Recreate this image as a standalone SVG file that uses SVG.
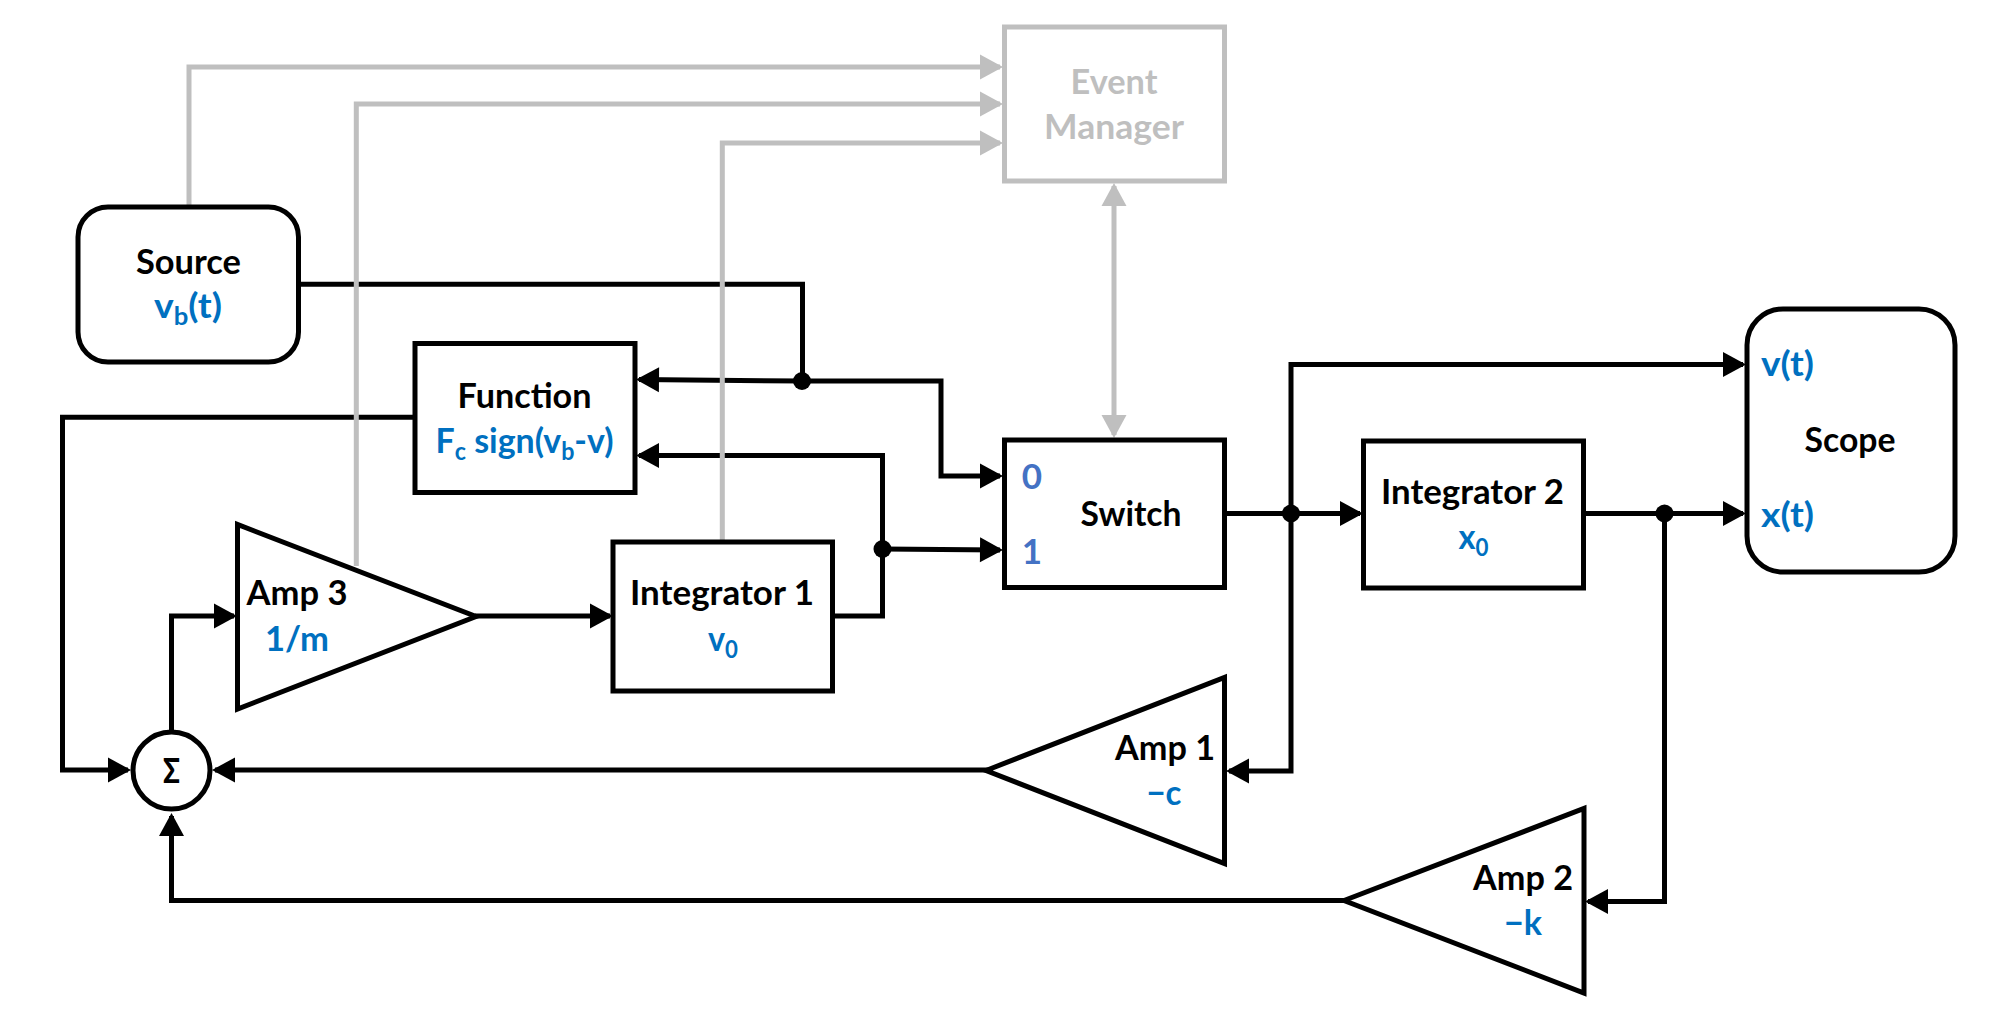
<svg xmlns="http://www.w3.org/2000/svg" width="2000" height="1031" viewBox="0 0 2000 1031">
<style>
.box{fill:#fff;stroke:#000;stroke-width:5}
.gbox{fill:#fff;stroke:#bfbfbf;stroke-width:5}
.w{fill:none;stroke:#000;stroke-width:5;stroke-linejoin:miter}
.g{fill:none;stroke:#bfbfbf;stroke-width:5;stroke-linejoin:miter}
text{font-family:"Lato","Liberation Sans",sans-serif;font-weight:700;font-size:35px;fill:#000;text-anchor:middle}
.b{fill:#0070c0}
.n{fill:#4472c4}
.l{fill:#bfbfbf}
.s{font-size:24px}
</style>
<defs>
<marker id="ab" markerUnits="userSpaceOnUse" markerWidth="24" markerHeight="26" refX="20" refY="12.5" orient="auto-start-reverse" overflow="visible"><path d="M0 0L23 12.5L0 25Z" fill="#000"/></marker>
<marker id="ag" markerUnits="userSpaceOnUse" markerWidth="24" markerHeight="26" refX="20" refY="12.5" orient="auto-start-reverse" overflow="visible"><path d="M0 0L23 12.5L0 25Z" fill="#bfbfbf"/></marker>
</defs>
<g id="connectors">
<path class="w" d="M299 284.300H802.500V382"/>
<path class="w" d="M802 381L639 379.500" marker-end="url(#ab)"/>
<path class="w" d="M802 381H941V476H1000" marker-end="url(#ab)"/>
<path class="w" d="M832 616H882.500V455.500H639" marker-end="url(#ab)"/>
<path class="w" d="M882.500 549L1000 550" marker-end="url(#ab)"/>
<path class="w" d="M414 417.300H62.500V770H128" marker-end="url(#ab)"/>
<path class="w" d="M171.500 732V616H234" marker-end="url(#ab)"/>
<path class="w" d="M475 616H610" marker-end="url(#ab)"/>
<path class="w" d="M990 770H215" marker-end="url(#ab)"/>
<path class="w" d="M1346 900.500H171.500V816" marker-end="url(#ab)"/>
<path class="w" d="M1224 513.500H1360" marker-end="url(#ab)"/>
<path class="w" d="M1291 514V364.500H1743" marker-end="url(#ab)"/>
<path class="w" d="M1291 514V771H1229" marker-end="url(#ab)"/>
<path class="w" d="M1584 513.500H1743" marker-end="url(#ab)"/>
<path class="w" d="M1664.500 514V901.500H1588" marker-end="url(#ab)"/>
<circle cx="802" cy="381" r="9"/>
<circle cx="882.500" cy="549" r="9"/>
<circle cx="1291" cy="513.500" r="9"/>
<circle cx="1664.500" cy="513.500" r="9"/>
<path class="g" d="M189 207V67H1000" marker-end="url(#ag)"/>
<path class="g" d="M356.300 566V104H1000" marker-end="url(#ag)"/>
<path class="g" d="M722.300 542V143H1000" marker-end="url(#ag)"/>
<path class="g" d="M1114 186V435" marker-start="url(#ag)" marker-end="url(#ag)"/>
</g>
<g id="event-manager">
<rect class="gbox" x="1004.500" y="27" width="220" height="154"/>
<text class="l" x="1114" y="94" textLength="87" lengthAdjust="spacingAndGlyphs">Event</text>
<text class="l" x="1114" y="139" textLength="140" lengthAdjust="spacingAndGlyphs">Manager</text>
</g>
<g id="source">
<rect class="box" x="78" y="207" width="220.500" height="155" rx="30"/>
<text x="188.500" y="274" textLength="105" lengthAdjust="spacingAndGlyphs">Source</text>
<text class="b" x="188" y="318" textLength="68" lengthAdjust="spacingAndGlyphs">v<tspan class="s" dy="7">b</tspan><tspan dy="-7">(t)</tspan></text>
</g>
<g id="function">
<rect class="box" x="415" y="343.500" width="220" height="149"/>
<text x="524.500" y="408" textLength="134" lengthAdjust="spacingAndGlyphs">Function</text>
<text class="b" x="524.500" y="453" textLength="178" lengthAdjust="spacingAndGlyphs">F<tspan class="s" dy="7">c</tspan><tspan dy="-7"> sign(v</tspan><tspan class="s" dy="7">b</tspan><tspan dy="-7">-v)</tspan></text>
</g>
<g id="integrator-1">
<rect class="box" x="613" y="542" width="219.500" height="149"/>
<text x="722" y="605" textLength="184" lengthAdjust="spacingAndGlyphs">Integrator 1</text>
<text class="b" x="723" y="651" textLength="30" lengthAdjust="spacingAndGlyphs">v<tspan class="s" dy="7">0</tspan></text>
</g>
<g id="amp-3">
<path class="box" d="M237.500 524.500V709L476 616.500Z"/>
<text x="297" y="605" textLength="101" lengthAdjust="spacingAndGlyphs">Amp 3</text>
<text class="b" x="297" y="651" textLength="64" lengthAdjust="spacingAndGlyphs">1/m</text>
</g>
<g id="switch">
<rect class="box" x="1004.500" y="440" width="220" height="147.500"/>
<text x="1131" y="526" textLength="101" lengthAdjust="spacingAndGlyphs">Switch</text>
<text class="n" x="1032" y="489">0</text>
<text class="n" x="1032" y="564">1</text>
</g>
<g id="integrator-2">
<rect class="box" x="1363.500" y="441" width="220" height="147"/>
<text x="1472.500" y="504" textLength="183" lengthAdjust="spacingAndGlyphs">Integrator 2</text>
<text class="b" x="1473.500" y="549" textLength="30" lengthAdjust="spacingAndGlyphs">x<tspan class="s" dy="7">0</tspan></text>
</g>
<g id="scope">
<rect class="box" x="1747" y="309" width="208" height="263" rx="36"/>
<text x="1850" y="452" textLength="91" lengthAdjust="spacingAndGlyphs">Scope</text>
<text class="b" x="1787.500" y="376" textLength="53" lengthAdjust="spacingAndGlyphs">v(t)</text>
<text class="b" x="1787.500" y="527" textLength="53" lengthAdjust="spacingAndGlyphs">x(t)</text>
</g>
<g id="amp-1">
<path class="box" d="M986 770.500L1224.500 677.500V863.500Z"/>
<text x="1165" y="760" textLength="100" lengthAdjust="spacingAndGlyphs">Amp 1</text>
<text class="b" x="1164" y="805" textLength="35" lengthAdjust="spacingAndGlyphs">−c</text>
</g>
<g id="amp-2">
<path class="box" d="M1344 900.500L1584 808.500V993Z"/>
<text x="1523" y="890" textLength="100" lengthAdjust="spacingAndGlyphs">Amp 2</text>
<text class="b" x="1523" y="935" textLength="38" lengthAdjust="spacingAndGlyphs">−k</text>
</g>
<g id="sum">
<circle class="box" cx="171.500" cy="770.500" r="38.500"/>
<text x="171.500" y="783" textLength="17" lengthAdjust="spacingAndGlyphs" style="font-weight:900">Σ</text>
</g>
</svg>
